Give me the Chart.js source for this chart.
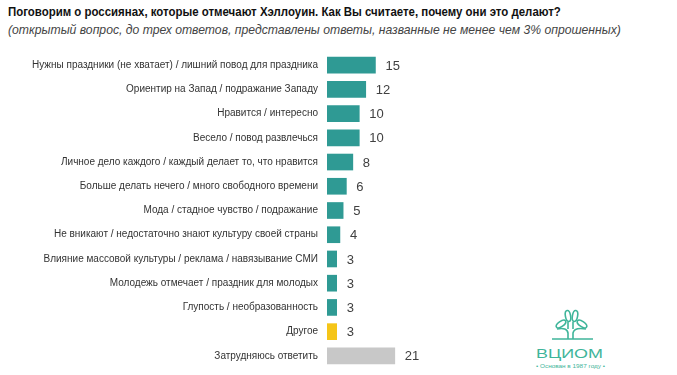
<!DOCTYPE html>
<html><head><meta charset="utf-8">
<script src="https://cdn.jsdelivr.net/npm/chart.js@4"></script>
<style>
body{margin:0;width:677px;height:375px;background:#fff;position:relative;overflow:hidden;font-family:"Liberation Sans",Arial,sans-serif}
#t1{position:absolute;left:8px;top:4px;font:bold 13px "Liberation Sans",Arial,sans-serif;color:#111;white-space:nowrap;transform:scaleX(0.88);transform-origin:0 0}
#t2{position:absolute;left:8px;top:23px;font:italic 12.2px "Liberation Sans",Arial,sans-serif;color:#444;white-space:nowrap}
#c{position:absolute;left:0;top:53px}
#logo{position:absolute;left:525px;top:295px}
</style></head><body>
<div id="t1">Поговорим о россиянах, которые отмечают Хэллоуин. Как Вы считаете, почему они это делают?</div>
<div id="t2">(открытый вопрос, до трех ответов, представлены ответы, названные не менее чем 3% опрошенных)</div>
<canvas id="c" width="440" height="315"></canvas>
<svg id="logo" width="100" height="80" viewBox="0 0 100 80">
 <g fill="none" stroke="#3fb59a" stroke-width="1.6">
  <ellipse cx="43" cy="21" rx="2.6" ry="5.5" transform="rotate(-10 43 21)"/>
  <ellipse cx="50" cy="21" rx="2.6" ry="5.5" transform="rotate(10 50 21)"/>
  <ellipse cx="36" cy="29" rx="5.5" ry="2.6" transform="rotate(-35 36 29)"/>
  <ellipse cx="57" cy="29" rx="5.5" ry="2.6" transform="rotate(35 57 29)"/>
  <path d="M32 34 Q42 32 43 38 L43 44"/>
  <path d="M61 34 Q49 32 48 38 L48 44"/>
  <path d="M43 27 L43 34"/><path d="M48 27 L48 34"/>
  <path d="M27 44 L68 44"/>
 </g>
 <text x="11" y="63" textLength="67" lengthAdjust="spacingAndGlyphs" font-family="Liberation Sans,Arial,sans-serif" font-size="13.5" fill="#3fb59a">ВЦИОМ</text>
 <text x="11" y="73" textLength="69" lengthAdjust="spacingAndGlyphs" font-family="Liberation Sans,Arial,sans-serif" font-size="5" fill="#3fb59a">• Основан в 1987 году •</text>
</svg>
<script>
const categories = [
 "Нужны праздники (не хватает) / лишний повод для праздника",
 "Ориентир на Запад / подражание Западу",
 "Нравится / интересно",
 "Весело / повод развлечься",
 "Личное дело каждого / каждый делает то, что нравится",
 "Больше делать нечего / много свободного времени",
 "Мода / стадное чувство / подражание",
 "Не вникают / недостаточно знают культуру своей страны",
 "Влияние массовой культуры / реклама / навязывание СМИ",
 "Молодежь отмечает / праздник для молодых",
 "Глупость / необразованность",
 "Другое",
 "Затрудняюсь ответить"
];
const values = [15, 12, 10, 10, 8, 6, 5, 4, 3, 3, 3, 3, 21];
const barColors = ["#2f9a94","#2f9a94","#2f9a94","#2f9a94","#2f9a94","#2f9a94","#2f9a94","#2f9a94","#2f9a94","#2f9a94","#2f9a94","#f5c518","#c8c8c8"];

const valueLabels = {
 id:'valueLabels',
 afterDatasetsDraw(chart){
  const ctx = chart.ctx;
  const meta = chart.getDatasetMeta(0);
  ctx.save();
  ctx.font = '13px "Liberation Sans", Arial, sans-serif';
  ctx.fillStyle = '#404040';
  ctx.textAlign = 'left';
  ctx.textBaseline = 'middle';
  meta.data.forEach((bar,i)=>{
   ctx.fillText(String(values[i]), bar.x + 10, bar.y + 1);
  });
  ctx.restore();
 }
};

new Chart(document.getElementById('c'), {
 type:'bar',
 data:{labels:categories, datasets:[{data:values, backgroundColor:barColors, barThickness:16}]},
 options:{
  indexAxis:'y', responsive:false, maintainAspectRatio:false, animation:false,
  layout:{padding:0},
  plugins:{legend:{display:false}, tooltip:{enabled:false}},
  scales:{
   x:{display:false, min:0, max:35},
   y:{
    grid:{display:false, drawTicks:false}, border:{display:false},
    ticks:{color:'#333', font:{size:10, family:'"Liberation Sans", Arial, sans-serif'}, padding:9, autoSkip:false},
    afterFit(scale){ scale.width = 327; scale.paddingTop = 0; scale.paddingBottom = 0; }
   }
  }
 },
 plugins:[valueLabels]
});
</script>
</body></html>
